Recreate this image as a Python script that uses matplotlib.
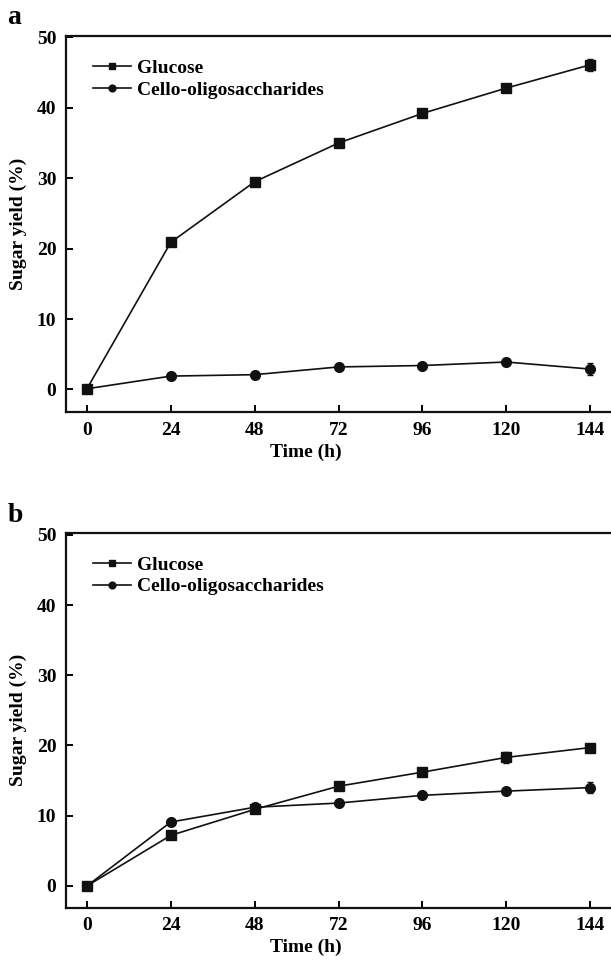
import matplotlib
matplotlib.use('Agg')
import matplotlib.pyplot as plt

plt.rcParams['font.family'] = 'Liberation Serif'
plt.rcParams['font.weight'] = 'bold'

time_h = [0, 24, 48, 72, 96, 120, 144]
# panel a
glucose_a = [0.1, 20.9, 29.5, 35.0, 39.2, 42.8, 46.1]
glucose_a_err = [0.1, 0.2, 0.2, 0.2, 0.2, 0.2, 0.85]
cello_a = [0.1, 1.9, 2.1, 3.2, 3.4, 3.9, 2.9]
cello_a_err = [0.1, 0.2, 0.2, 0.3, 0.3, 0.35, 0.9]
# panel b
glucose_b = [0.0, 7.2, 10.9, 14.2, 16.2, 18.3, 19.7]
glucose_b_err = [0.1, 0.2, 0.3, 0.3, 0.3, 0.8, 0.2]
cello_b = [0.0, 9.1, 11.2, 11.8, 12.9, 13.5, 14.0]
cello_b_err = [0.1, 0.2, 0.2, 0.2, 0.2, 0.3, 0.8]

yticks = [0, 10, 20, 30, 40, 50]

fig = plt.figure(figsize=(6.11, 9.64), dpi=100)
ax_a = fig.add_axes([66/611, 1-412/964, 1-66/611, 376/964])
ax_b = fig.add_axes([66/611, 1-907.7/964, 1-66/611, 375/964])

def draw(ax, g, ge, c, ce, ylim, xlab_y):
    # error bars, then lines with markers
    ax.errorbar(time_h, g, yerr=ge, fmt='none', ecolor='#111111', capsize=2.5, elinewidth=1)
    ax.errorbar(time_h, c, yerr=ce, fmt='none', ecolor='#111111', capsize=2.5, elinewidth=1)
    ax.plot(time_h, g, color='#111111', marker='s', ms=6.5, lw=1.2, label='Glucose')
    ax.plot(time_h, c, color='#111111', marker='o', ms=7, lw=1.2, label='Cello-oligosaccharides')
    ax.set_xlim(-6, 150)
    ax.set_ylim(*ylim)
    ax.set_xticks(time_h)
    ax.set_yticks(yticks)
    ax.spines['right'].set_visible(False)
    for s in ['left', 'bottom', 'top']:
        ax.spines[s].set_linewidth(1.6)
        ax.spines[s].set_color('#111111')
    ax.tick_params(direction='in', length=5, width=1.4, labelsize=14, pad=7,
                   top=False, right=False)
    for lab in ax.get_xticklabels() + ax.get_yticklabels():
        lab.set_fontweight('bold')
    ax.set_xlabel('Time (h)', fontsize=14, fontweight='bold')
    ax.set_ylabel('Sugar yield (%)', fontsize=14, fontweight='bold')
    ax.xaxis.set_label_coords(0.44, xlab_y)
    ax.yaxis.set_label_coords(-0.072, 0.5)
    leg = ax.legend(loc='upper left', bbox_to_anchor=(0.0495, 0.937), frameon=False,
                    fontsize=14, handlelength=1.95, handletextpad=0.3, markerscale=0.7,
                    borderpad=0, labelspacing=0.2, borderaxespad=0)
    for t in leg.get_texts():
        t.set_fontweight('bold')

draw(ax_a, glucose_a, glucose_a_err, cello_a, cello_a_err, (-3.2, 50.2), -0.085)
draw(ax_b, glucose_b, glucose_b_err, cello_b, cello_b_err, (-3.1, 50.3), -0.082)

fig.text(0.012, 0.982, 'a', fontsize=20, fontweight='bold', va='center')
fig.text(0.012, 0.465, 'b', fontsize=20, fontweight='bold', va='center')

fig.savefig('out.png', dpi=100)
